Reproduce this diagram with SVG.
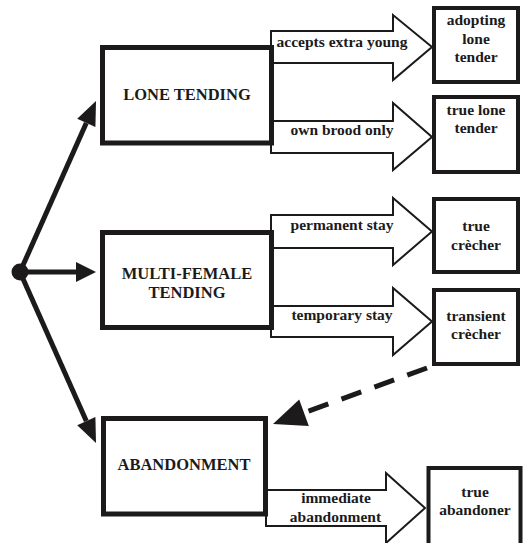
<svg xmlns="http://www.w3.org/2000/svg" width="524" height="543" viewBox="0 0 524 543">
<style>
.big{fill:#fff;stroke:#1c1a1b;stroke-width:5}
.small{fill:#fff;stroke:#1c1a1b;stroke-width:4}
.blk{fill:#fff;stroke:#1c1a1b;stroke-width:2;stroke-linejoin:miter}
.line{stroke:#1c1a1b;stroke-width:5;fill:none}
.head{fill:#1c1a1b;stroke:none}
text{font-family:"Liberation Serif","Times New Roman",serif;font-weight:bold;fill:#1c1a1b;text-anchor:middle}
.t1{font-size:16.5px}
.t2{font-size:15.5px}
</style>
<rect width="524" height="543" fill="#fff"/>
<g id="connectors">
  <circle cx="20" cy="272" r="8.5" fill="#1c1a1b"/>
  <line class="line" x1="20" y1="272" x2="86.3" y2="122.9"/>
  <polygon class="head" points="96,101 95.4,127 77.2,118.8"/>
  <line class="line" x1="20" y1="272" x2="78" y2="272"/>
  <polygon class="head" points="96,272 76,262 76,282"/>
  <line class="line" x1="20" y1="272" x2="86.3" y2="421.1"/>
  <polygon class="head" points="96,443 95.4,417 77.2,425.2"/>
  <line class="line" x1="427" y1="368" x2="304" y2="412.7" stroke-dasharray="21 14"/>
  <polygon class="head" points="273,424 308.8,425.9 299.2,399.5"/>
  <g id="arrow-accepts">
    <polygon class="blk" points="271,31 393,31 393,15 432,47 393,80 393,63 271,63"/>
    <text class="t2" x="342" y="46.5">accepts extra young</text>
  </g>
  <g id="arrow-own">
    <polygon class="blk" points="271,121 393,121 393,103 432,137 393,170 393,153 271,153"/>
    <text class="t2" x="342" y="135">own brood only</text>
  </g>
  <g id="arrow-permanent">
    <polygon class="blk" points="271,215 393,215 393,198 432,231.5 393,265 393,248 271,248"/>
    <text class="t2" x="342" y="230">permanent stay</text>
  </g>
  <g id="arrow-temporary">
    <polygon class="blk" points="271,306 393,306 393,288 432,321.5 393,355 393,337 271,337"/>
    <text class="t2" x="342" y="319.5">temporary stay</text>
  </g>
  <g id="arrow-immediate">
    <polygon class="blk" points="266,490 386,490 386,473 425,508 386,543 386,526 266,526"/>
    <text class="t2" x="336" y="503">immediate</text>
    <text class="t2" x="335.5" y="521.5">abandonment</text>
  </g>
</g>
<g id="lone-tending">
  <rect class="big" x="102.5" y="47.5" width="169" height="95.5"/>
  <text class="t1" x="187" y="99.5">LONE TENDING</text>
</g>
<g id="multi-female-tending">
  <rect class="big" x="102.5" y="232.5" width="169" height="95"/>
  <text class="t1" x="187" y="279">MULTI-FEMALE</text>
  <text class="t1" x="187" y="298">TENDING</text>
</g>
<g id="abandonment">
  <rect class="big" x="103.5" y="418.5" width="162" height="95.5"/>
  <text class="t1" x="184" y="470">ABANDONMENT</text>
</g>
<g id="adopting-lone-tender">
  <rect class="small" x="434" y="8" width="84" height="74"/>
  <text class="t2" x="476" y="25">adopting</text>
  <text class="t2" x="476" y="43.5">lone</text>
  <text class="t2" x="476" y="62">tender</text>
</g>
<g id="true-lone-tender">
  <rect class="small" x="434" y="97" width="84" height="75"/>
  <text class="t2" x="476" y="115">true lone</text>
  <text class="t2" x="476" y="133">tender</text>
</g>
<g id="true-crecher">
  <rect class="small" x="434" y="199" width="84" height="73"/>
  <text class="t2" x="476" y="230.5">true</text>
  <text class="t2" x="476" y="249.5">crècher</text>
</g>
<g id="transient-crecher">
  <rect class="small" x="434" y="290" width="84" height="74"/>
  <text class="t2" x="476" y="320.5">transient</text>
  <text class="t2" x="476" y="338.5">crècher</text>
</g>
<g id="true-abandoner">
  <rect class="small" x="428.5" y="468" width="92" height="90"/>
  <text class="t2" x="475" y="496.5">true</text>
  <text class="t2" x="475" y="515">abandoner</text>
</g>
</svg>
